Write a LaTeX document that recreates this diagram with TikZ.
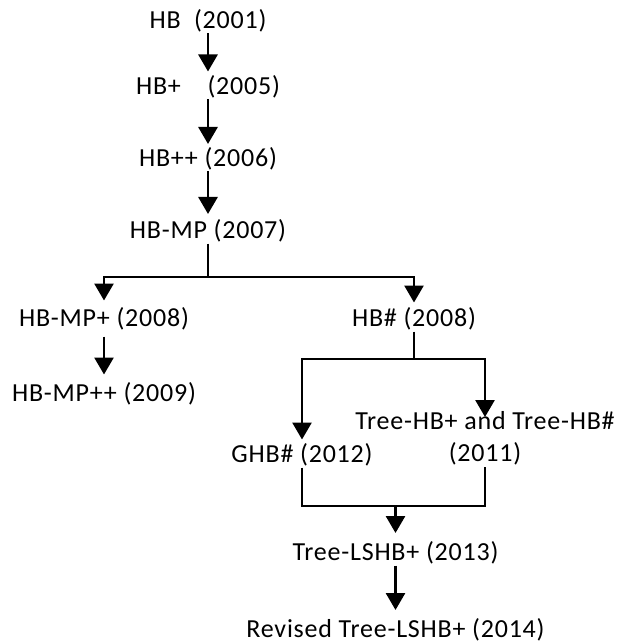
\documentclass[tikz,border=0pt]{standalone}
\usepackage{fontspec}
\setmainfont{Carlito}[LetterSpace=3]
\usetikzlibrary{arrows.meta}
\begin{document}
\begin{tikzpicture}[x=1pt,y=-1pt,
  lbl/.style={inner sep=0pt, outer sep=0pt, anchor=base, text height=18pt, text depth=5pt, font=\fontsize{26pt}{32pt}\selectfont},
  arr/.style={line width=2.8pt, -{Triangle[length=17pt,width=19pt]}},
  ln/.style={line width=2.8pt}]
\useasboundingbox (0,0) rectangle (621,644);
% nodes
\node[lbl] (hb) at (208,28.5) {HB\ \ (2001)};
\node[lbl] (hbp) at (208,94.5) {HB+\ \ \ \ (2005)};
\node[lbl] (hbpp) at (208,166.5) {HB++ (2006)};
\node[lbl] (hbmp) at (208,238.5) {HB-MP (2007)};
\node[lbl] (hbmpp) at (104,326.5) {HB-MP+ (2008)};
\node[lbl] (hbmppp) at (104,401.5) {HB-MP++ (2009)};
\node[lbl] (hbs) at (414,326.5) {HB\# (2008)};
\node[lbl] (thb) at (485,429.5) {Tree-HB+ and Tree-HB\#};
\node[lbl] (y2011) at (485,461.5) {(2011)};
\node[lbl] (ghb) at (302,462.5) {GHB\# (2012)};
\node[lbl] (tls) at (395.5,560.5) {Tree-LSHB+ (2013)};
\node[lbl] (rev) at (395.5,637.5) {Revised Tree-LSHB+ (2014)};
% junctions
\coordinate (j1) at (208,277);
\coordinate (j2) at (414,359);
\coordinate (j3) at (395.5,506);
% connectors
\draw[arr, shorten <=0pt, shorten >=5pt] (hb) -- (hbp);
\draw[arr, shorten >=4.5pt] (hbp) -- (hbpp);
\draw[arr, shorten >=6.5pt] (hbpp) -- (hbmp);
\draw[ln] (hbmp) -- (j1);
\draw[arr, shorten >=8pt] (j1) -| (hbmpp);
\draw[arr, shorten >=6pt] (j1) -| (hbs);
\draw[arr, shorten <=5pt, shorten >=9pt] (hbmpp) -- (hbmppp);
\draw[ln] (hbs) -- (j2);
\draw[arr, shorten >=5pt] (j2) -| (ghb);
\draw[arr, shorten >=-5.5pt] (j2) -| (thb);
\draw[ln] (ghb) |- (j3) -| (y2011);
\draw[arr, shorten >=9.5pt] (j3) -- (tls);
\draw[arr, shorten >=9.5pt] (tls) -- (rev);
\end{tikzpicture}
\end{document}
